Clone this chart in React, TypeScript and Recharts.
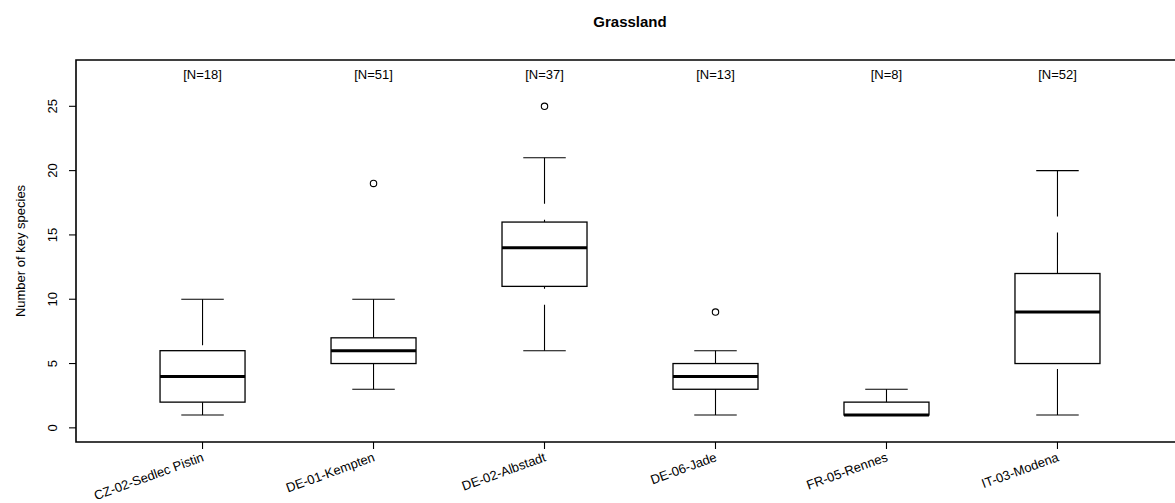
import React from 'react';
import { ComposedChart, Bar, Scatter, XAxis, YAxis, ReferenceArea } from 'recharts';

const categories = [
  'CZ-02-Sedlec Pistin',
  'DE-01-Kempten',
  'DE-02-Albstadt',
  'DE-06-Jade',
  'FR-05-Rennes',
  'IT-03-Modena',
];
const nCounts = [18, 51, 37, 13, 8, 52];
const whiskerLow = [1, 3, 6, 1, 1, 1];
const q1Values = [2, 5, 11, 3, 1, 5];
const medianValues = [4, 6, 14, 4, 1, 9];
const q3Values = [6, 7, 16, 5, 2, 12];
const whiskerHigh = [10, 10, 21, 6, 3, 20];
const outlierGroups = [2, 3, 4];
const outlierValues = [19, 25, 9];
const yTicks = [0, 5, 10, 15, 20, 25];
const xTicks = [1, 2, 3, 4, 5, 6];
const nLabelLevel = 27.5;
const yDomain = [-1.1, 28.6];
const xDomain = [0.26, 6.74];

const FONT = "'Liberation Sans', Arial, Helvetica, sans-serif";
const FS = 13;

const boxData = categories.map((name, i) => ({
  x: i + 1,
  name,
  range: [whiskerLow[i], whiskerHigh[i]],
  lo: whiskerLow[i],
  q1: q1Values[i],
  med: medianValues[i],
  q3: q3Values[i],
  hi: whiskerHigh[i],
}));
const outlierData = outlierGroups.map((g, i) => ({ x: g, y: outlierValues[i] }));
const nLabelData = nCounts.map((n, i) => ({ x: i + 1, y: nLabelLevel, label: `[N=${n}]` }));

const BoxShape = (props: any) => {
  const { x, y, width, height, payload } = props;
  if (x == null || y == null || !payload) return null;
  const top = Math.min(y, y + height);
  const bottom = Math.max(y, y + height);
  const span = payload.hi - payload.lo;
  const py = (v: number) => bottom - ((v - payload.lo) * (bottom - top)) / span;
  const cx = x + width / 2;
  const capHalf = width / 4;
  const stroke = '#000';
  return (
    <g>
      <line x1={cx} y1={py(payload.hi)} x2={cx} y2={py(payload.q3)} stroke={stroke} strokeWidth={1.1} strokeDasharray="46 16" />
      <line x1={cx} y1={py(payload.lo)} x2={cx} y2={py(payload.q1)} stroke={stroke} strokeWidth={1.1} strokeDasharray="46 16" />
      <line x1={cx - capHalf} y1={py(payload.hi)} x2={cx + capHalf} y2={py(payload.hi)} stroke={stroke} strokeWidth={1.1} />
      <line x1={cx - capHalf} y1={py(payload.lo)} x2={cx + capHalf} y2={py(payload.lo)} stroke={stroke} strokeWidth={1.1} />
      <rect x={x} y={py(payload.q3)} width={width} height={py(payload.q1) - py(payload.q3)} fill="#fff" stroke={stroke} strokeWidth={1.3} />
      <line x1={x} y1={py(payload.med)} x2={x + width} y2={py(payload.med)} stroke={stroke} strokeWidth={3} />
    </g>
  );
};

const OutlierShape = (props: any) => {
  const { cx, cy } = props;
  if (cx == null || cy == null) return null;
  return <circle cx={cx} cy={cy} r={3.2} fill="none" stroke="#000" strokeWidth={1.1} />;
};

const NLabelShape = (props: any) => {
  const { cx, cy, payload } = props;
  if (cx == null || cy == null) return null;
  return (
    <text x={cx} y={cy} textAnchor="middle" dominantBaseline="central" fontFamily={FONT} fontSize={FS} fill="#000">
      {payload.label}
    </text>
  );
};

const XTick = (props: any) => {
  const { x, y, payload } = props;
  const label = categories[Math.round(payload.value) - 1];
  const ax = x - 1;
  const ay = y + 1;
  return (
    <text
      x={ax}
      y={ay}
      dy="0.71em"
      textAnchor="end"
      transform={`rotate(-20, ${ax}, ${ay})`}
      fontFamily={FONT}
      fontSize={FS}
      fill="#000"
    >
      {label}
    </text>
  );
};

const YTick = (props: any) => {
  const { x, y, payload } = props;
  const tx = x - 9.5;
  return (
    <text x={tx} y={y} textAnchor="middle" transform={`rotate(-90, ${tx}, ${y})`} fontFamily={FONT} fontSize={FS} fill="#000">
      {payload.value}
    </text>
  );
};

const YLabel = (props: any) => {
  const vb = props.viewBox || {};
  const cy = (vb.y ?? 60) + (vb.height ?? 382) / 2;
  const cx = 24.5;
  return (
    <text x={cx} y={cy} textAnchor="middle" transform={`rotate(-90, ${cx}, ${cy})`} fontFamily={FONT} fontSize={FS} fill="#000">
      Number of key species
    </text>
  );
};

export default function App() {
  return (
    <div style={{ position: 'absolute', left: 0, top: 0, width: 1175, height: 503, overflow: 'hidden', background: '#fff' }}>
      <ComposedChart width={1200} height={503} data={boxData} margin={{ top: 60, right: 16, bottom: 0, left: 0 }}>
        <XAxis
          dataKey="x"
          type="number"
          domain={xDomain}
          allowDataOverflow
          ticks={xTicks}
          interval={0}
          height={61}
          axisLine={false}
          tickSize={7}
          tickLine={{ stroke: '#000', strokeWidth: 1.1 }}
          tick={<XTick />}
        />
        <YAxis
          type="number"
          domain={yDomain}
          allowDataOverflow
          ticks={yTicks}
          interval={0}
          width={76}
          axisLine={false}
          tickSize={7}
          tickLine={{ stroke: '#000', strokeWidth: 1.1 }}
          tick={<YTick />}
          label={<YLabel />}
        />
        <ReferenceArea x1={xDomain[0]} x2={xDomain[1]} y1={yDomain[0]} y2={yDomain[1]} fill="none" fillOpacity={0} stroke="#000" strokeWidth={1.6} ifOverflow="visible" />
        <Bar dataKey="range" barSize={85} shape={<BoxShape />} isAnimationActive={false} />
        <Scatter data={outlierData} dataKey="y" shape={<OutlierShape />} isAnimationActive={false} />
        <Scatter data={nLabelData} dataKey="y" shape={<NLabelShape />} isAnimationActive={false} />
      </ComposedChart>
      <svg width={1175} height={503} style={{ position: 'absolute', left: 0, top: 0, pointerEvents: 'none' }}>
        <text x={630} y={27} textAnchor="middle" fontFamily={FONT} fontSize={15} fontWeight="bold" fill="#000">
          Grassland
        </text>
      </svg>
    </div>
  );
}
